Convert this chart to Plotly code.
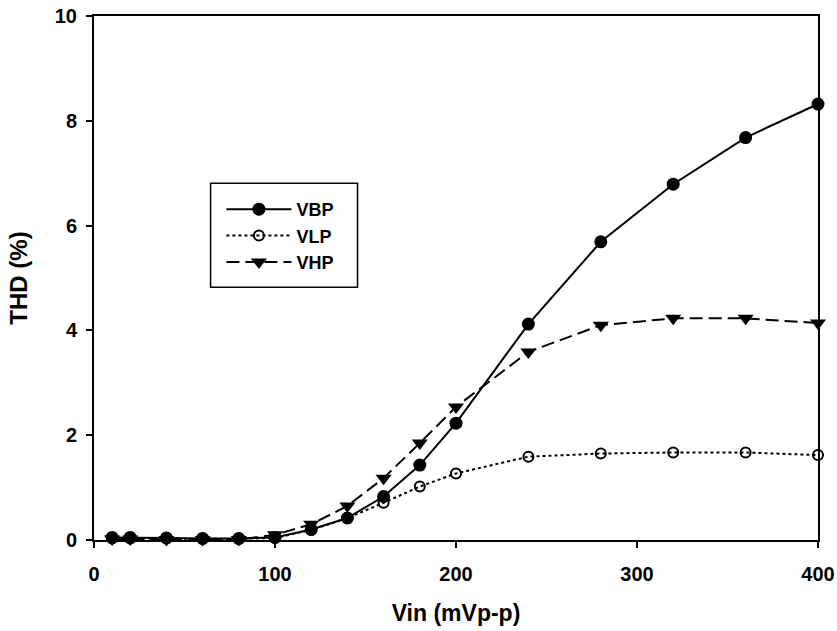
import plotly.graph_objects as go

vin = [10, 20, 40, 60, 80, 100, 120, 140, 160, 180, 200, 240, 280, 320, 360, 400]
vbp = [0.05, 0.05, 0.04, 0.03, 0.03, 0.05, 0.20, 0.42, 0.83, 1.43, 2.23, 4.12, 5.69, 6.79, 7.68, 8.32]
vlp = [0.03, 0.03, 0.03, 0.02, 0.02, 0.04, 0.19, 0.42, 0.71, 1.02, 1.27, 1.59, 1.65, 1.67, 1.67, 1.62]
vhp = [0.02, 0.02, 0.01, 0.01, 0.01, 0.10, 0.30, 0.65, 1.18, 1.85, 2.54, 3.59, 4.10, 4.23, 4.23, 4.14]

x_ticks = [0, 100, 200, 300, 400]
y_ticks = [0, 2, 4, 6, 8, 10]

FONT = "Liberation Sans, Arial, sans-serif"

fig = go.Figure()
fig.add_trace(go.Scatter(
    x=vin, y=vbp, name="VBP", mode="lines+markers", cliponaxis=False,
    line=dict(color="black", width=2, dash="solid"),
    marker=dict(symbol="circle", size=13, color="black"),
))
fig.add_trace(go.Scatter(
    x=vin, y=vlp, name="VLP", mode="lines+markers", cliponaxis=False,
    line=dict(color="black", width=2, dash="dot"),
    marker=dict(symbol="circle-open", size=10, color="black", line=dict(width=2)),
))
fig.add_trace(go.Scatter(
    x=vin, y=vhp, name="VHP", mode="lines+markers", cliponaxis=False,
    line=dict(color="black", width=2, dash="13px,6px"),
    marker=dict(symbol="triangle-down", size=14, color="black"),
))

# legend frame
fig.add_shape(type="rect", xref="paper", yref="paper",
              x0=0.161, x1=0.364, y0=0.4825, y1=0.681,
              line=dict(color="black", width=1.5), fillcolor="rgba(0,0,0,0)",
              layer="above")

fig.update_layout(
    width=837, height=631,
    margin=dict(l=94, r=19, t=16, b=91, autoexpand=False),
    paper_bgcolor="white", plot_bgcolor="white",
    font=dict(family=FONT, color="black"),
    showlegend=True,
    legend=dict(
        x=0.176, y=0.666, xanchor="left", yanchor="top",
        borderwidth=0, bgcolor="rgba(0,0,0,0)",
        font=dict(family=FONT, size=18, color="black", weight="bold"),
        itemwidth=65, tracegroupgap=0,
    ),
)
fig.update_xaxes(
    range=[0, 400], tickvals=x_ticks, ticktext=[str(v) for v in x_ticks],
    showgrid=False, zeroline=False, automargin=False,
    showline=True, linecolor="black", linewidth=2, mirror=True,
    ticks="outside", ticklen=6, tickwidth=2, tickcolor="black",
    tickfont=dict(family=FONT, size=20, color="black", weight="bold"),
    ticklabelstandoff=9,
    title=dict(text="Vin (mVp-p)", standoff=21,
               font=dict(family=FONT, size=23, color="black", weight="bold")),
)
fig.update_yaxes(
    range=[0, 10], tickvals=y_ticks, ticktext=[str(v) for v in y_ticks],
    showgrid=False, zeroline=False, automargin=False,
    showline=True, linecolor="black", linewidth=2, mirror=True,
    ticks="outside", ticklen=6, tickwidth=2, tickcolor="black",
    tickfont=dict(family=FONT, size=20, color="black", weight="bold"),
    ticklabelstandoff=5,
    title=dict(text="THD (%)", standoff=20,
               font=dict(family=FONT, size=24, color="black", weight="bold")),
)

fig.write_html("out.html", config={"displayModeBar": False},
               post_script="document.body.style.margin='0';")
